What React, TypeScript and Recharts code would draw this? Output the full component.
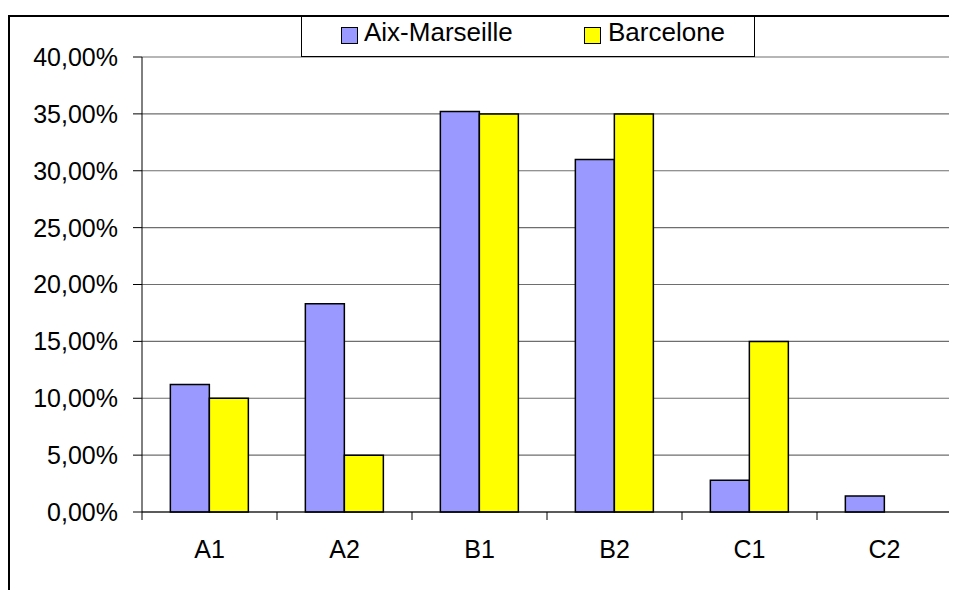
import React from 'react';
import { BarChart, Bar, XAxis, YAxis, CartesianGrid } from 'recharts';

const categories = ['A1', 'A2', 'B1', 'B2', 'C1', 'C2'];
const aixMarseille = [11.2, 18.3, 35.2, 31.0, 2.8, 1.4];
const barcelone = [10.0, 5.0, 35.0, 35.0, 15.0, 0];
const seriesNames = ['Aix-Marseille', 'Barcelone'];
const yTicks = [0, 5, 10, 15, 20, 25, 30, 35, 40];

const data = categories.map((c, i) => ({
  name: c,
  aix: aixMarseille[i],
  bcn: barcelone[i],
}));

const FONT = "Arial, 'Liberation Sans', sans-serif";
const W = 949;
const H = 582;
const MARGIN = { top: 49, right: 5, bottom: 0, left: 0 };
const Y_AXIS_W = 134;
const PLOT_W = W - MARGIN.left - MARGIN.right - Y_AXIS_W;
const BAND = PLOT_W / categories.length;
const X_TICK = 8;

const fmtPct = (v: number) => `${v.toFixed(2).replace('.', ',')}%`;

// category ticks sit on band edges, like the original spreadsheet chart
const CategoryTick = (props: any) => {
  const { x, y, payload, index } = props;
  const left = x - BAND / 2;
  return (
    <g>
      <line x1={left} x2={left} y1={y - X_TICK} y2={y} stroke="#000" strokeWidth={1} />
      {index === categories.length - 1 && (
        <line x1={left + BAND} x2={left + BAND} y1={y - X_TICK} y2={y} stroke="#000" strokeWidth={1} />
      )}
      <text x={x} y={y + 20} dy="0.71em" textAnchor="middle" fill="#000" fontSize={25} fontFamily={FONT}>
        {payload.value}
      </text>
    </g>
  );
};

export default function App() {
  return (
    <div style={{ position: 'relative', width: W, height: H, overflow: 'hidden', background: '#fff', fontFamily: FONT }}>
      <div
        style={{
          position: 'absolute', left: 0, top: 7, width: 1000, height: 700,
          border: '2px solid #000', boxSizing: 'border-box',
        }}
      />
      <div style={{ position: 'absolute', left: 0, top: 0 }}>
        <BarChart width={W} height={H} data={data} margin={MARGIN} barCategoryGap="21%" barGap={0}>
          <CartesianGrid stroke="#6e6e6e" strokeWidth={1.2} vertical={false} />
          <CartesianGrid
            stroke="#9a9a9a"
            strokeWidth={2}
            horizontal={false}
            verticalCoordinatesGenerator={({ offset }: any) => [offset.left + offset.width]}
          />
          <XAxis
            dataKey="name"
            height={H - MARGIN.top - 455}
            axisLine={{ stroke: '#000', strokeWidth: 1 }}
            tickLine={false}
            tickSize={X_TICK}
            tickMargin={0}
            tick={<CategoryTick />}
            interval={0}
          />
          <YAxis
            width={Y_AXIS_W}
            domain={[0, 40]}
            ticks={yTicks}
            tickFormatter={fmtPct}
            axisLine={{ stroke: '#000', strokeWidth: 1 }}
            tickLine={{ stroke: '#000', strokeWidth: 1 }}
            tickSize={9}
            tickMargin={15}
            tick={{ fill: '#000', fontSize: 25, fontFamily: FONT }}
            interval={0}
          />
          <Bar dataKey="aix" name={seriesNames[0]} fill="#9999FF" stroke="#000" strokeWidth={1.5} isAnimationActive={false} />
          <Bar dataKey="bcn" name={seriesNames[1]} fill="#FFFF00" stroke="#000" strokeWidth={1.5} isAnimationActive={false} />
        </BarChart>
      </div>
      <div
        style={{
          position: 'absolute', left: 293, top: 8, width: 454, height: 41,
          border: '1px solid #000', boxSizing: 'border-box', background: '#fff',
        }}
      >
        {[
          { sw: 39, tx: 62, color: '#9999FF', label: seriesNames[0] },
          { sw: 282, tx: 306, color: '#FFFF00', label: seriesNames[1] },
        ].map((it) => (
          <React.Fragment key={it.label}>
            <div
              style={{
                position: 'absolute', left: it.sw, top: 10, width: 17, height: 17,
                background: it.color, border: '1.5px solid #000', boxSizing: 'border-box',
              }}
            />
            <div style={{ position: 'absolute', left: it.tx, top: 1, fontSize: 26, lineHeight: '28px', color: '#000', whiteSpace: 'nowrap' }}>
              {it.label}
            </div>
          </React.Fragment>
        ))}
      </div>
    </div>
  );
}
